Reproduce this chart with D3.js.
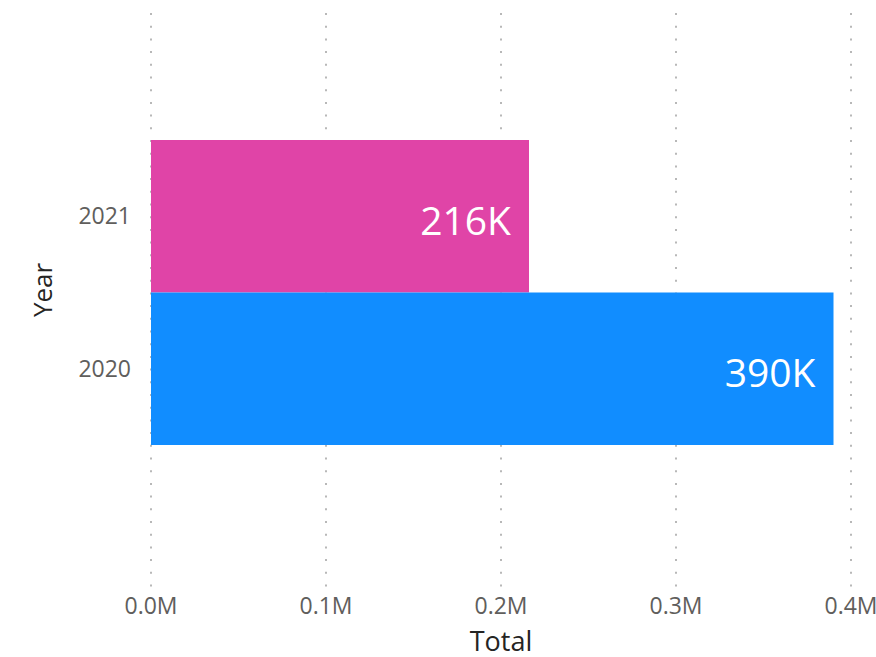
<!DOCTYPE html>
<html>
<head>
<meta charset="utf-8">
<script src="https://cdn.jsdelivr.net/npm/d3@7"></script>
<style>
  body { margin: 0; background: #fff; }
  text { font-family: "Open Sans", "Noto Sans", sans-serif; }
</style>
</head>
<body>
<svg id="chart"></svg>
<script>
const years = ["2021", "2020"];
const totals = [216000, 390000];
const barColors = ["#E044A7", "#118DFF"];
const xTicks = [0, 100000, 200000, 300000, 400000];

const width = 876;
const height = 657;
const margin = {top: 12, left: 151, right: 25, bottom: 67};

let svg = d3.select("#chart")
  .attr("width", width)
  .attr("height", height);

let xScale = d3.scaleLinear()
  .domain([0, 400000])
  .range([margin.left, margin.left + 700]);

let yScale = d3.scaleBand()
  .domain(years)
  .range([140, 445])
  .padding(0);

// dotted gridlines
svg.selectAll("line.grid")
  .data(xTicks)
  .enter().append("line")
  .attr("class", "grid")
  .attr("x1", (d) => xScale(d))
  .attr("x2", (d) => xScale(d))
  .attr("y1", 13)
  .attr("y2", 590)
  .style("stroke", "#b8b8b8")
  .style("stroke-width", 2)
  .style("stroke-dasharray", "2,10.7");

// bars
svg.selectAll("rect.bar")
  .data(years)
  .enter().append("rect")
  .attr("class", "bar")
  .attr("x", xScale(0))
  .attr("y", (d) => yScale(d))
  .attr("width", (d, i) => xScale(totals[i]) - xScale(0))
  .attr("height", yScale.bandwidth())
  .style("fill", (d, i) => barColors[i]);

// data labels
svg.selectAll("text.value")
  .data(years)
  .enter().append("text")
  .attr("class", "value")
  .attr("x", (d, i) => xScale(totals[i]) - 18)
  .attr("y", (d) => yScale(d) + yScale.bandwidth() / 2 + 5)
  .attr("dy", "0.35em")
  .attr("text-anchor", "end")
  .style("font-size", "39px")
  .style("fill", "#ffffff")
  .text((d, i) => Math.round(totals[i] / 1000) + "K");

// x tick labels
svg.selectAll("text.xtick")
  .data(xTicks)
  .enter().append("text")
  .attr("class", "xtick")
  .attr("x", (d) => xScale(d))
  .attr("y", 614)
  .attr("text-anchor", "middle")
  .style("font-size", "23px")
  .style("fill", "#605E5C")
  .text((d) => (d / 1e6).toFixed(1) + "M");

// y tick labels
svg.selectAll("text.ytick")
  .data(years)
  .enter().append("text")
  .attr("class", "ytick")
  .attr("x", 131)
  .attr("y", (d) => yScale(d) + yScale.bandwidth() / 2)
  .attr("dy", "0.35em")
  .attr("text-anchor", "end")
  .style("font-size", "23px")
  .style("fill", "#605E5C")
  .text((d) => d);

// axis titles
svg.append("text")
  .attr("x", xScale(200000))
  .attr("y", 651)
  .attr("text-anchor", "middle")
  .style("font-size", "27px")
  .style("fill", "#252423")
  .text("Total");

svg.append("text")
  .attr("transform", "translate(52,290) rotate(-90)")
  .attr("text-anchor", "middle")
  .style("font-size", "26px")
  .style("fill", "#252423")
  .text("Year");
</script>
</body>
</html>
